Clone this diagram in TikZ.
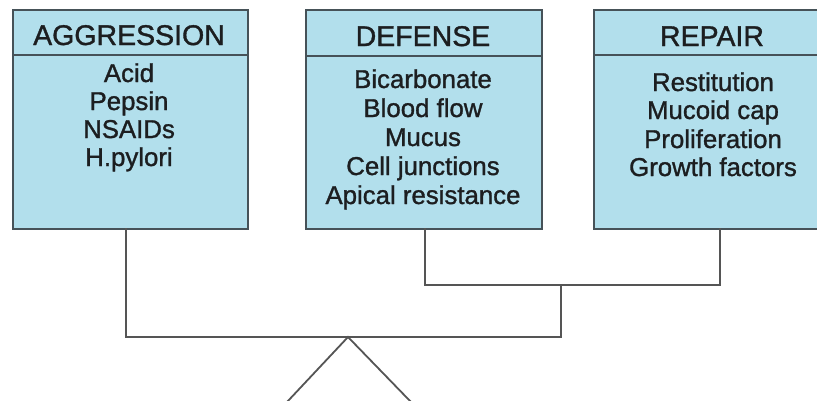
\documentclass[tikz,border=0pt]{standalone}
\usepackage{fontspec}
\setmainfont{Liberation Sans}[RawFeature={embolden=1.2}]
\definecolor{boxc}{RGB}{178,223,236}
\definecolor{bordc}{RGB}{70,82,88}
\definecolor{linec}{RGB}{85,85,85}
\definecolor{txtc}{RGB}{28,30,32}
\tikzset{
  boxshape/.style={draw=bordc, fill=boxc, line width=1.8pt, rectangle, inner sep=0pt, anchor=north west},
  hdr/.style={anchor=base, inner sep=0pt, text=txtc, font=\fontsize{28.5}{30}\selectfont},
  item/.style={anchor=base, inner sep=0pt, text=txtc, font=\fontsize{25.8}{28}\selectfont},
  conn/.style={draw=linec, line width=1.8pt},
  sep/.style={draw=bordc, line width=1.8pt}
}
\begin{document}
\begin{tikzpicture}[x=1pt,y=-1pt]
\useasboundingbox (0,0) rectangle (817,400);
\clip (0,0) rectangle (817,400);
% boxes
\node[boxshape, minimum width=235pt, minimum height=219pt] (agg) at (12,9) {};
\node[boxshape, minimum width=236pt, minimum height=219pt] (def) at (305,9) {};
\node[boxshape, minimum width=240pt, minimum height=219pt] (rep) at (593,9) {};
% header separators
\draw[sep] (agg.west |- 0,55) -- (agg.east |- 0,55);
\draw[sep] (def.west |- 0,56) -- (def.east |- 0,56);
\draw[sep] (rep.west |- 0,55) -- (rep.east |- 0,55);
% headers
\node[hdr] (aggh) at (129,45) {AGGRESSION};
\node[hdr] (defh) at (423,46) {DEFENSE};
\node[hdr] (reph) at (712,46) {REPAIR};
% aggression items
\node[item] (a1) at (129,82) {Acid};
\node[item] (a2) at (129,110) {Pepsin};
\node[item] (a3) at (129,138) {NSAIDs};
\node[item] (a4) at (129,166) {H.pylori};
% defense items
\node[item] (d1) at (423,88) {Bicarbonate};
\node[item] (d2) at (423,117) {Blood flow};
\node[item] (d3) at (423,146) {Mucus};
\node[item] (d4) at (423,175) {Cell junctions};
\node[item] (d5) at (423,204) {Apical resistance};
% repair items
\node[item] (r1) at (713,91) {Restitution};
\node[item] (r2) at (713,119) {Mucoid cap};
\node[item] (r3) at (713,148) {Proliferation};
\node[item] (r4) at (713,176) {Growth factors};
% connectors
\coordinate (aggb) at (126,228);
\coordinate (defb) at (425,228);
\coordinate (repb) at (720,228);
\coordinate (dj) at (561,285);
\coordinate (apex) at (348,337);
\coordinate (legl) at (287,402);
\coordinate (legr) at (411,402);
\draw[conn] (defb) -- (defb |- dj) -- (repb |- dj) -- (repb);
\draw[conn] (aggb) -- (aggb |- apex) -- (dj |- apex) -- (dj);
\draw[conn] (legl) -- (apex) -- (legr);
\end{tikzpicture}
\end{document}
